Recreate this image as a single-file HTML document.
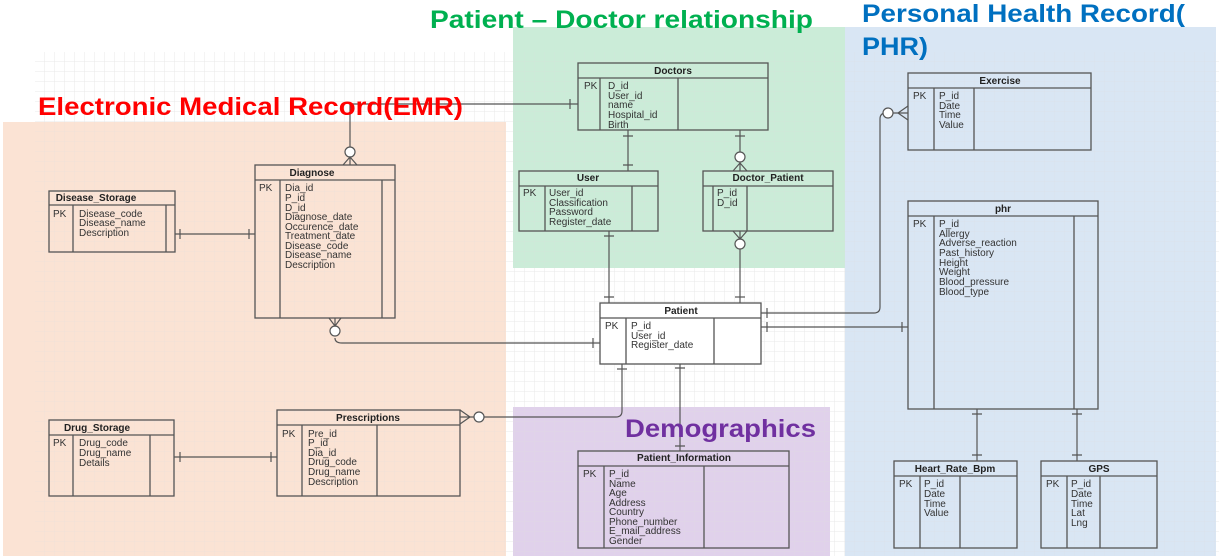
<!DOCTYPE html>
<html><head><meta charset="utf-8"><style>
html,body{margin:0;padding:0;background:#fff;}
svg{display:block;}
.t{font-family:"Liberation Sans",sans-serif;font-size:10px;fill:#333;}
.h{font-family:"Liberation Sans",sans-serif;font-size:10px;font-weight:bold;fill:#222;}
.ttl{font-family:"Liberation Sans","Noto Sans CJK KR",sans-serif;font-weight:bold;}
.b{fill:none;stroke:#555;stroke-width:1.3;}
.c{fill:none;stroke:#555;stroke-width:1.2;}
</style></head><body>
<svg width="1219" height="556" viewBox="0 0 1219 556" xmlns="http://www.w3.org/2000/svg">
<defs>
<pattern id="g" width="10" height="10" patternUnits="userSpaceOnUse" x="5" y="2">
<path d="M10 0V10M0 10H10" fill="none" stroke="#e6e6e6" stroke-width="0.7"/>
</pattern>
</defs>
<rect x="35" y="52" width="1184" height="504" fill="url(#g)"/>
<rect x="3" y="122" width="503" height="434" fill="#f9d9c6" opacity="0.75"/>
<rect x="513" y="27" width="332" height="241" fill="#b5e4c8" opacity="0.7"/>
<rect x="845" y="27" width="371" height="529" fill="#c9dbef" opacity="0.7"/>
<rect x="513" y="407" width="317" height="149" fill="#d5c1e4" opacity="0.75"/>
<rect x="35" y="52" width="1184" height="504" fill="url(#g)" opacity="0.5"/>

<!-- connectors -->
<g class="c">
<path d="M350 148V104H578"/><path d="M570 99V109"/>
<circle cx="350" cy="152" r="5" fill="#fff"/><path d="M343 165L350 157L357 165M350 157V165"/>
<path d="M175 234H255"/><path d="M180 229V239M249 229V239"/>
<path d="M335 318V335M335 339V338Q335 343 342 343H600"/><circle cx="335" cy="331" r="5" fill="#fff"/><path d="M329 318L335 326L341 318"/><path d="M593 338V348"/>
<path d="M460 417H616Q622 417 622 411V364"/><circle cx="479" cy="417" r="5" fill="#fff"/><path d="M460 410L470 417L460 424"/><path d="M617 369H627"/>
<path d="M174 457H277"/><path d="M180 452V462M271 452V462"/>
<path d="M680 364V451"/><path d="M675 368H685M675 446H685"/>
<path d="M628 130V171"/><path d="M623 136H633M623 165H633"/>
<path d="M740 130V171"/><path d="M735 136H745"/><circle cx="740" cy="157" r="5" fill="#fff"/><path d="M733 171L740 163L747 171"/>
<path d="M609 231V303"/><path d="M604 236H614M604 297H614"/>
<path d="M740 231V303"/><circle cx="740" cy="244" r="5" fill="#fff"/><path d="M733 231L740 239L747 231"/><path d="M735 297H745"/>
<path d="M761 313H874Q880 313 880 307V119Q880 113 886 113H908"/><path d="M767 308V318"/><circle cx="888" cy="113" r="5" fill="#fff"/><path d="M908 106L898 113L908 120"/>
<path d="M761 327H908"/><path d="M767 322V332M902 322V332"/>
<path d="M977 409V461"/><path d="M972 414H982M972 455H982"/>
<path d="M1077 409V461"/><path d="M1072 414H1082M1072 455H1082"/>
</g>

<!-- tables -->
<g class="b">
<rect x="578" y="63" width="190" height="67"/><path d="M578 78H768M600 78V130M678 78V130"/>
<rect x="519" y="171" width="139" height="60"/><path d="M519 186H658M545 186V231M632 186V231"/>
<rect x="703" y="171" width="130" height="60"/><path d="M703 186H833M713 186V231M747 186V231"/>
<rect x="908" y="73" width="183" height="77"/><path d="M908 88H1091M934 88V150M974 88V150"/>
<rect x="908" y="201" width="190" height="208"/><path d="M908 216H1098M934 216V409M1074 216V409"/>
<rect x="894" y="461" width="123" height="87"/><path d="M894 476H1017M920 476V548M960 476V548"/>
<rect x="1041" y="461" width="116" height="87"/><path d="M1041 476H1157M1067 476V548M1100 476V548"/>
<rect x="600" y="303" width="161" height="61" fill="#fff"/><path d="M600 318H761M626 318V364M714 318V364"/>
<rect x="578" y="451" width="211" height="97"/><path d="M578 466H789M604 466V548M704 466V548"/>
<rect x="255" y="165" width="140" height="153"/><path d="M255 180H395M280 180V318M382 180V318"/>
<rect x="49" y="191" width="126" height="61"/><path d="M49 205H175M73 205V252M166 205V252"/>
<rect x="277" y="410" width="183" height="86"/><path d="M277 425H460M302 425V496M377 425V496"/>
<rect x="49" y="420" width="125" height="76"/><path d="M49 435H174M73 435V496M150 435V496"/>
</g>

<g>
<text class="h" x="673" y="74" text-anchor="middle">Doctors</text>
<text class="t" x="584" y="89">PK</text>
<text class="t" x="608" y="89">D_id</text><text class="t" x="608" y="99">User_id</text><text class="t" x="608" y="108">name</text><text class="t" x="608" y="118">Hospital_id</text><text class="t" x="608" y="128">Birth</text>

<text class="h" x="588" y="181" text-anchor="middle">User</text>
<text class="t" x="523" y="196">PK</text>
<text class="t" x="549" y="196">User_id</text><text class="t" x="549" y="206">Classification</text><text class="t" x="549" y="215">Password</text><text class="t" x="549" y="225">Register_date</text>

<text class="h" x="768" y="181" text-anchor="middle">Doctor_Patient</text>
<text class="t" x="717" y="196">P_id</text><text class="t" x="717" y="206">D_id</text>

<text class="h" x="1000" y="84" text-anchor="middle">Exercise</text>
<text class="t" x="913" y="99">PK</text>
<text class="t" x="939" y="99">P_id</text><text class="t" x="939" y="109">Date</text><text class="t" x="939" y="118">Time</text><text class="t" x="939" y="128">Value</text>

<text class="h" x="1003" y="212" text-anchor="middle">phr</text>
<text class="t" x="913" y="227">PK</text>
<text class="t" x="939" y="227">P_id</text><text class="t" x="939" y="237">Allergy</text><text class="t" x="939" y="246">Adverse_reaction</text><text class="t" x="939" y="256">Past_history</text><text class="t" x="939" y="266">Height</text><text class="t" x="939" y="275">Weight</text><text class="t" x="939" y="285">Blood_pressure</text><text class="t" x="939" y="295">Blood_type</text>

<text class="h" x="955" y="472" text-anchor="middle">Heart_Rate_Bpm</text>
<text class="t" x="899" y="487">PK</text>
<text class="t" x="924" y="487">P_id</text><text class="t" x="924" y="497">Date</text><text class="t" x="924" y="507">Time</text><text class="t" x="924" y="516">Value</text>

<text class="h" x="1099" y="472" text-anchor="middle">GPS</text>
<text class="t" x="1046" y="487">PK</text>
<text class="t" x="1071" y="487">P_id</text><text class="t" x="1071" y="497">Date</text><text class="t" x="1071" y="507">Time</text><text class="t" x="1071" y="516">Lat</text><text class="t" x="1071" y="526">Lng</text>

<text class="h" x="681" y="314" text-anchor="middle">Patient</text>
<text class="t" x="605" y="329">PK</text>
<text class="t" x="631" y="329">P_id</text><text class="t" x="631" y="339">User_id</text><text class="t" x="631" y="348">Register_date</text>

<text class="h" x="684" y="461" text-anchor="middle">Patient_Information</text>
<text class="t" x="583" y="477">PK</text>
<text class="t" x="609" y="477">P_id</text><text class="t" x="609" y="487">Name</text><text class="t" x="609" y="496">Age</text><text class="t" x="609" y="506">Address</text><text class="t" x="609" y="515">Country</text><text class="t" x="609" y="525">Phone_number</text><text class="t" x="609" y="534">E_mail_address</text><text class="t" x="609" y="544">Gender</text>

<text class="h" x="312" y="176" text-anchor="middle">Diagnose</text>
<text class="t" x="259" y="191">PK</text>
<text class="t" x="285" y="191">Dia_id</text><text class="t" x="285" y="201">P_id</text><text class="t" x="285" y="211">D_id</text><text class="t" x="285" y="220">Diagnose_date</text><text class="t" x="285" y="230">Occurence_date</text><text class="t" x="285" y="239">Treatment_date</text><text class="t" x="285" y="249">Disease_code</text><text class="t" x="285" y="258">Disease_name</text><text class="t" x="285" y="268">Description</text>

<text class="h" x="96" y="201" text-anchor="middle">Disease_Storage</text>
<text class="t" x="53" y="217">PK</text>
<text class="t" x="79" y="217">Disease_code</text><text class="t" x="79" y="226">Disease_name</text><text class="t" x="79" y="236">Description</text>

<text class="h" x="368" y="421" text-anchor="middle">Prescriptions</text>
<text class="t" x="282" y="437">PK</text>
<text class="t" x="308" y="437">Pre_id</text><text class="t" x="308" y="446">P_id</text><text class="t" x="308" y="456">Dia_id</text><text class="t" x="308" y="465">Drug_code</text><text class="t" x="308" y="475">Drug_name</text><text class="t" x="308" y="485">Description</text>

<text class="h" x="97" y="431" text-anchor="middle">Drug_Storage</text>
<text class="t" x="53" y="446">PK</text>
<text class="t" x="79" y="446">Drug_code</text><text class="t" x="79" y="456">Drug_name</text><text class="t" x="79" y="466">Details</text>
</g>

<!-- titles -->
<text class="ttl" x="430" y="28" font-size="25" fill="#00b050" textLength="383" lengthAdjust="spacingAndGlyphs">Patient – Doctor relationship</text>
<text class="ttl" x="862" y="22" font-size="25" fill="#0070c0" textLength="323" lengthAdjust="spacingAndGlyphs">Personal Health Record(</text>
<text class="ttl" x="862" y="55" font-size="25" fill="#0070c0" textLength="66" lengthAdjust="spacingAndGlyphs">PHR)</text>
<text class="ttl" x="38" y="115" font-size="25" fill="#ff0000" textLength="425" lengthAdjust="spacingAndGlyphs">Electronic Medical Record(EMR)</text>
<text class="ttl" x="625" y="437" font-size="25" fill="#7030a0" textLength="191" lengthAdjust="spacingAndGlyphs">Demographics</text>
</svg>
</body></html>
